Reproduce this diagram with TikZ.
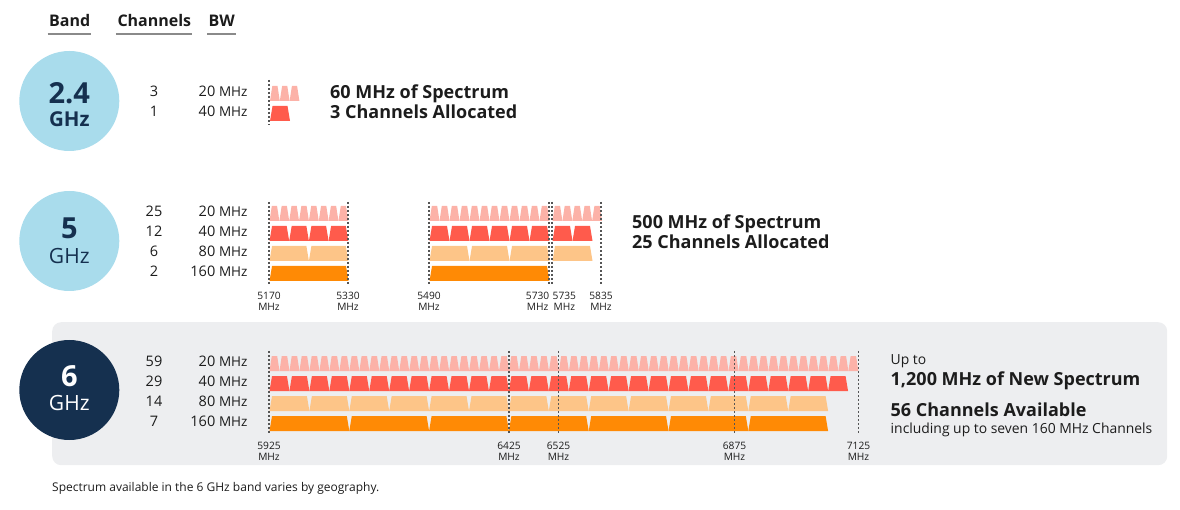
\documentclass[tikz,border=0pt]{standalone}
\usepackage{fontspec}
\setmainfont{Open Sans}
\usetikzlibrary{positioning}

\definecolor{ink}{HTML}{1C1C1C}
\definecolor{navy}{HTML}{15304F}
\definecolor{skyband}{HTML}{A9DCEC}
\definecolor{panelgray}{HTML}{EDEEF0}
\definecolor{rulegray}{HTML}{8A8A8A}
\definecolor{markgray}{HTML}{555555}
\definecolor{ch20}{HTML}{FCB2A8}
\definecolor{ch40}{HTML}{FF5B4C}
\definecolor{ch80}{HTML}{FDC588}
\definecolor{ch160}{HTML}{FF8A05}

% x0, top, width, count, colour, inset
\newcommand{\chanrow}[6]{%
  \foreach \k in {1,...,#4}{%
    \fill[#5] ({#1+(\k-1)*#3},{#2+15}) -- ++(#3,0) -- ++(-#6,-15)
      -- ++({-(#3)+2*#6},0) -- cycle;
  }}

\begin{document}
\begin{tikzpicture}[x=1pt, y=-1pt,
    every node/.style={inner sep=0pt, text=ink},
    head/.style={font=\fontsize{16}{19}\selectfont\bfseries, anchor=base west},
    headrule/.style={draw=rulegray, line width=1.5pt},
    bandcircle/.style={circle, minimum size=100pt},
    bandnum/.style={font=\fontsize{29}{34}\selectfont\bfseries, anchor=base},
    bandunit/.style={font=\fontsize{21}{25}\selectfont, anchor=base},
    chcount/.style={font=\fontsize{14.5}{17}\selectfont, anchor=base},
    bwnum/.style={font=\fontsize{14.5}{17}\selectfont, anchor=base east},
    mhz/.style={font=\fontsize{13.5}{15}\selectfont, anchor=base west},
    marker/.style={draw=markgray, line width=1.6pt, dash pattern=on 2pt off 2pt},
    freq/.style={font=\fontsize{10.2}{10.5}\selectfont, align=center},
    summary/.style={font=\fontsize{18}{21}\selectfont\bfseries, anchor=base west},
    note/.style={font=\fontsize{13.9}{16}\selectfont, anchor=base west}]

  \useasboundingbox (0,0) rectangle (1180,510);

  % header
  \node[head] (hband) at (49,26.7) {Band};
  \node[head] (hchan) at (117.3,26.7) {Channels};
  \node[head] (hbw) at (208.5,26.7) {BW};
  \foreach \h in {hband,hchan,hbw}
    \draw[headrule] ([xshift=-1.5pt,yshift=-7.3pt]\h.base west) -- ([xshift=1pt,yshift=-7.3pt]\h.base east);

  % 6 GHz panel
  \node[fill=panelgray, rounded corners=9pt, minimum width=1115pt, minimum height=143pt, anchor=north west] (panel) at (52,322) {};

  % band circles
  \node[bandcircle, fill=skyband] (c24) at (69.3,101) {};
  \node[bandnum, text=navy] (n24) at (69.3,103.3) {2.4};
  \node[bandunit, text=navy, font=\fontsize{20.5}{25}\selectfont\bfseries] (u24) at (69.3,126.7) {GHz};
  \node[bandcircle, fill=skyband] (c5) at (69.3,241) {};
  \node[bandnum, text=navy] (n5) at (69.3,238.3) {5};
  \node[bandunit, text=navy] (u5) at (69.3,263.3) {GHz};
  \node[bandcircle, fill=navy] (c6) at (69.3,390) {};
  \node[bandnum, text=white] (n6) at (69.3,386.7) {6};
  \node[bandunit, text=white] (u6) at (69.3,410.7) {GHz};

  % channels / bandwidth columns
  \foreach \n/\b [count=\i] in {3/20,1/40} {
    \node[chcount] (k24\i) at (154,{76.7+20*\i}) {\n};
    \node[bwnum] (w24\i) at (215.5,{76.7+20*\i}) {\b};
    \node[mhz] (m24\i) at ([xshift=3.3pt]w24\i.base east) {MHz};
  }
  \foreach \n/\b [count=\i] in {25/20,12/40,6/80,2/160} {
    \node[chcount] (k5\i) at (154,{196.7+20*\i}) {\n};
    \node[bwnum] (w5\i) at (215.5,{196.7+20*\i}) {\b};
    \node[mhz] (m5\i) at ([xshift=3.3pt]w5\i.base east) {MHz};
  }
  \foreach \n/\b [count=\i] in {59/20,29/40,14/80,7/160} {
    \node[chcount] (k6\i) at (154,{346.7+20*\i}) {\n};
    \node[bwnum] (w6\i) at (215.5,{346.7+20*\i}) {\b};
    \node[mhz] (m6\i) at ([xshift=3.3pt]w6\i.base east) {MHz};
  }

  % 2.4 GHz spectrum
  \chanrow{270}{86}{9.8}{3}{ch20}{2.3}
  \chanrow{270}{106}{20}{1}{ch40}{2.5}
  \coordinate (f24t) at (269,80);
  \coordinate (f24b) at (269,125);
  \draw[marker] (f24t) -- (f24b);

  % 5 GHz spectrum
  \chanrow{269.5}{206}{9.85}{8}{ch20}{2.3}
  \chanrow{429.5}{206}{10}{12}{ch20}{2.3}
  \chanrow{552.5}{206}{9.9}{5}{ch20}{2.3}
  \chanrow{269.5}{226}{19.7}{4}{ch40}{2.5}
  \chanrow{429.5}{226}{20}{6}{ch40}{2.5}
  \chanrow{552.5}{226}{20}{2}{ch40}{2.5}
  \chanrow{269.5}{246}{39.4}{2}{ch80}{2.5}
  \chanrow{429.5}{246}{40}{3}{ch80}{2.5}
  \chanrow{552.5}{246}{40}{1}{ch80}{2.5}
  \chanrow{269.5}{266}{79}{1}{ch160}{2.5}
  \chanrow{429.5}{266}{120}{1}{ch160}{2.5}
  \foreach \x [count=\i] in {269,348,429,549,552,601} {
    \coordinate (f5t\i) at (\x,202);
    \coordinate (f5b\i) at (\x,284);
    \draw[marker] (f5t\i) -- (f5b\i);
  }
  \node[freq, below=8pt of f5b1] (l51) {5170\\MHz};
  \node[freq, below=8pt of f5b2] (l52) {5330\\MHz};
  \node[freq, below=8pt of f5b3] (l53) {5490\\MHz};
  \node[freq, anchor=north east] (l54) at ([xshift=0.5pt,yshift=-8pt]f5b4) {5730\\MHz};
  \node[freq, anchor=north west] (l55) at ([xshift=0.5pt,yshift=-8pt]f5b5) {5735\\MHz};
  \node[freq, below=8pt of f5b6] (l56) {5835\\MHz};

  % 6 GHz spectrum
  \chanrow{269.5}{356}{9.98}{59}{ch20}{2.3}
  \chanrow{269.5}{376}{19.95}{29}{ch40}{2.5}
  \chanrow{269.5}{396}{39.9}{14}{ch80}{2.5}
  \chanrow{269.5}{416}{79.8}{7}{ch160}{2.5}
  \foreach \x/\f [count=\i] in {269/5925,509/6425,558.5/6525,734.5/6875,858.5/7125} {
    \coordinate (f6t\i) at (\x,351);
    \coordinate (f6b\i) at (\x,433);
    \draw[marker] (f6t\i) -- (f6b\i);
    \node[freq, below=9pt of f6b\i] (l6\i) {\f\\MHz};
  }

  % summaries
  \node[summary] (s24a) at (330,99) {60 MHz of Spectrum};
  \node[summary] (s24b) at (330,119) {3 Channels Allocated};
  \node[summary] (s5a) at (632,228.3) {500 MHz of Spectrum};
  \node[summary] (s5b) at (632,248.3) {25 Channels Allocated};
  \node[note] (s6a) at (890.5,364) {Up to};
  \node[summary] (s6b) at (890.5,385.7) {1,200 MHz of New Spectrum};
  \node[summary] (s6c) at (890.5,416.7) {56 Channels Available};
  \node[note] (s6d) at (890.5,433.3) {including up to seven 160 MHz Channels};

  \node[font=\fontsize{12}{14}\selectfont, anchor=base west] (foot) at (52,491) {Spectrum available in the 6 GHz band varies by geography.};
\end{tikzpicture}
\end{document}
